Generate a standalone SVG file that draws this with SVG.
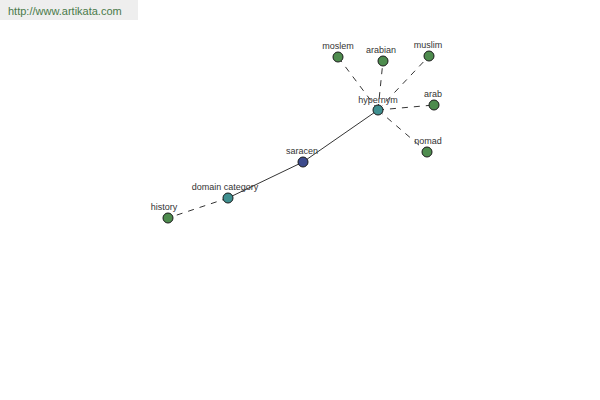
<svg xmlns="http://www.w3.org/2000/svg" width="600" height="400" viewBox="0 0 600 400">
<style>
.lbl{font-family:"Liberation Sans",Arial,sans-serif;font-size:9px;fill:#333;text-anchor:middle}
.n{stroke:#1a1a1a;stroke-width:1}
.g{fill:#4e8c4e}
.t{fill:#3f8f8f}
.b{fill:#3c4a8c}
.e{stroke:#000;stroke-width:0.8;fill:none}
.d{stroke-dasharray:6,6}
</style>
<rect width="600" height="400" fill="#fff"/>
<rect x="0" y="0" width="138" height="20" fill="#eeeeee"/>
<text x="8" y="15" font-family="'Liberation Sans',Arial,sans-serif" font-size="11" fill="#4a7a4a">http://www.artikata.com</text>
<g id="connectors">
<line class="e" x1="303" y1="162" x2="378" y2="110"/>
<line class="e" x1="303" y1="162" x2="228" y2="198"/>
<line class="e d" x1="228" y1="198" x2="168" y2="218"/>
<line class="e d" x1="378" y1="110" x2="338" y2="57"/>
<line class="e d" x1="378" y1="110" x2="383" y2="61"/>
<line class="e d" x1="378" y1="110" x2="429" y2="56"/>
<line class="e d" x1="378" y1="110" x2="434" y2="105"/>
<line class="e d" x1="378" y1="110" x2="427" y2="152"/>
</g>
<g id="moslem"><circle class="n g" cx="338" cy="57" r="5"/><text class="lbl" x="338" y="49">moslem</text></g>
<g id="arabian"><circle class="n g" cx="383" cy="61" r="5"/><text class="lbl" x="381" y="53">arabian</text></g>
<g id="muslim"><circle class="n g" cx="429" cy="56" r="5"/><text class="lbl" x="428" y="48">muslim</text></g>
<g id="arab"><circle class="n g" cx="434" cy="105" r="5"/><text class="lbl" x="433" y="97">arab</text></g>
<g id="nomad"><circle class="n g" cx="427" cy="152" r="5"/><text class="lbl" x="428" y="144">nomad</text></g>
<g id="hypernym"><circle class="n t" cx="378" cy="110" r="5"/><text class="lbl" x="378" y="103">hypernym</text></g>
<g id="saracen"><circle class="n b" cx="303" cy="162" r="5"/><text class="lbl" x="302" y="154">saracen</text></g>
<g id="domain-category"><circle class="n t" cx="228" cy="198" r="5"/><text class="lbl" x="225" y="190">domain category</text></g>
<g id="history"><circle class="n g" cx="168" cy="218" r="5"/><text class="lbl" x="164" y="210">history</text></g>
</svg>
